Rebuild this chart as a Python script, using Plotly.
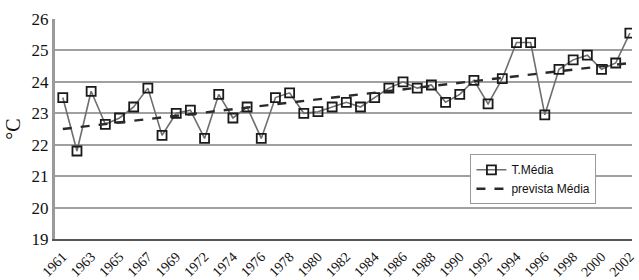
import plotly.graph_objects as go

years = [str(y) for y in list(range(1961, 1971)) + list(range(1972, 2003))]
t_media = [23.5, 21.8, 23.7, 22.65, 22.85, 23.2, 23.8, 22.3, 23.0, 23.1,
           22.2, 23.6, 22.85, 23.2, 22.2, 23.5, 23.65, 23.0, 23.05, 23.2,
           23.35, 23.2, 23.5, 23.8, 24.0, 23.8, 23.9, 23.35, 23.6, 24.05,
           23.3, 24.1, 25.25, 25.25, 22.95, 24.4, 24.7, 24.85, 24.4, 24.6,
           25.55]
trend_x = [years[0], years[-1]]
trend_y = [22.5, 24.6]
tick_labels = years[::2]

fig = go.Figure()
fig.add_trace(go.Scatter(
    x=years, y=t_media, mode="lines+markers", name="T.Média",
    line=dict(color="#6e6e6e", width=1.6),
    marker=dict(symbol="square-open", size=9, color="#1a1a1a", line=dict(width=1.8)),
))
fig.add_trace(go.Scatter(
    x=trend_x, y=trend_y, mode="lines", name="prevista Média",
    line=dict(color="#2a2a2a", width=2.4, dash="dash"),
))

fig.update_layout(
    width=639, height=280,
    margin=dict(l=55, r=7, t=19, b=41, autoexpand=False),
    paper_bgcolor="white", plot_bgcolor="white",
    showlegend=True,
    legend=dict(x=0.72, y=0.385, xanchor="left", yanchor="top",
                bgcolor="white", bordercolor="#999999", borderwidth=1,
                font=dict(family="Liberation Sans", size=12, color="#111111"),
                itemwidth=30, tracegroupgap=0),
    xaxis=dict(type="category", categoryorder="array", categoryarray=years,
               tickmode="array", tickvals=tick_labels, ticktext=tick_labels,
               tickangle=-45, range=[-0.55, 40.15], automargin=False,
               ticklabelstandoff=2,
               tickfont=dict(family="Liberation Serif", size=14, color="#111111"),
               showgrid=False, showline=True, linecolor="#555555", linewidth=2,
               ticks="", zeroline=False),
    yaxis=dict(range=[19, 26], dtick=1, tick0=19, automargin=False,
               tickfont=dict(family="Liberation Serif", size=17, color="#111111"),
               showgrid=True, gridcolor="#a0a0a0", gridwidth=2,
               showline=True, linecolor="#9a9a9a", linewidth=3,
               ticks="", zeroline=False,
               title=dict(text="°C", font=dict(family="Liberation Serif", size=20, color="#111111"),
                          standoff=6)),
)

fig.write_html("out.html", config={"displayModeBar": False},
               post_script="document.body.style.margin='0';document.body.style.overflow='hidden';")
